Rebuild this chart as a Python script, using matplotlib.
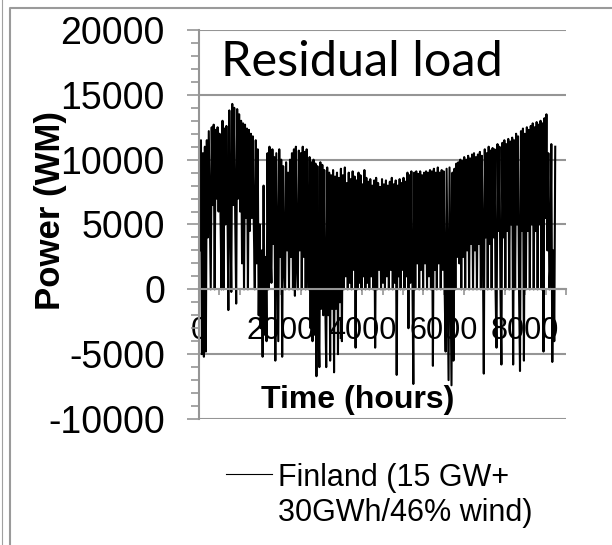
import numpy as np
import matplotlib.pyplot as plt
from matplotlib.lines import Line2D
from matplotlib.ticker import MultipleLocator

plt.rcParams["font.family"] = ["Liberation Sans", "DejaVu Sans"]
plt.rcParams["axes.unicode_minus"] = False

# daily samples of the residual load (MW)
load_mw = [
    11000, 3000, 11500, -5000, 10500, -5200, 11000,
    -4800, 11500, 4000, 12200, 6000, 0, 12500,
    6500, 12700, 0, 12300, 7000, 12500, 6000,
    12000, 5500, 0, 13000, 0, 12400, 5000,
    12600, 7000, -1600, 13800, 6000, -200, 14300,
    6500, 14000, 5500, -1100, 13900, 7000, 13500,
    6000, 13000, 2000, 12800, 0, 12700, 5500,
    12400, 0, 12300, 4500, 12000, 5500, 11800,
    5000, 0, 11500, 2000, 10800, -2000, 5000,
    -3000, 3000, -5200, 8000, -3500, 2500, -4000,
    10500, 0, 11000, 3000, 500, 10800, 3500,
    10200, -5500, 10500, 3000, -4000, 10800, 2500,
    10000, -5200, 9500, 2000, 0, 9800, 3000,
    9000, 0, 10000, 2500, 10500, 0, 10800,
    -500, 11000, 2000, 0, 10700, 3000, 10500,
    0, 11000, 2500, 10600, 0, 10800, 3000,
    0, 10200, -3000, 9800, -4000, 10000, -3500,
    9700, -6700, 9500, -2500, -6000, 9800, -1500,
    9600, -2000, 9200, -1000, -6000, 9400, -2000,
    9000, -5500, 8800, -1500, 9200, -6400, 8700,
    -1500, 9000, -5000, 8600, -1000, 9300, -4000,
    8800, 0, 9400, 1000, 8200, 0, 9000,
    500, 8500, 0, 9100, 1500, 8700, -4500,
    8400, 0, 9000, 500, 8800, 0, 8100,
    1000, 9200, 0, 8600, 500, 8300, 0,
    8500, 1000, 8000, 0, 8400, -4500, 8600,
    0, 8200, 1500, 7900, 0, 8500, 500,
    8100, 0, 8400, 1000, 8000, 0, 8300,
    1500, 8600, 0, 8100, 500, 8400, -6600,
    8000, 1000, 8500, 0, 8200, 1500, 8600,
    0, 8300, 1000, 9000, -3000, 8800, 500,
    9100, 1500, -7300, 9000, 0, 9100, 2000,
    8900, 0, 9100, 1500, 8800, 0, 9000,
    2000, 9100, 0, 9000, 1000, 9200, 0,
    9100, -5900, 9300, 1500, 9000, 0, 9400,
    2000, 9000, 0, 9200, 1500, 9100, 0,
    -4800, 9300, 1500, -7000, 9400, 1000, -7400,
    9000, -5500, 9300, 0, 9700, 2500, 9800,
    2000, 10000, 0, 9900, 2500, 10200, 0,
    10000, 3000, 10300, 0, 10100, 3500, 10400,
    0, 10500, 3000, 10200, 0, 10400, 3500,
    10600, 0, 10300, 3500, -6500, 10800, 4000,
    10500, 0, 11000, 3500, 10700, 0, 10900,
    4000, 10800, 0, -4500, 11200, 4500, 11000,
    0, -5800, 11300, 4000, 11500, 0, 11200,
    4500, 11600, 0, 11400, 5000, 11700, -5800,
    11500, 0, 12000, 5000, 11800, 0, -6300,
    12200, 4500, 12400, -5500, 12000, 0, 12500,
    4500, 12300, 0, 12600, 5000, 12800, 0,
    12500, 4500, 12900, 0, 12700, 5000, 13000,
    0, 12800, -4800, 13200, 5500, 13500, 3000,
    10500, 0, 2000, 11200, -5600, 3000, -4000,
    11000,
]
hours = np.arange(len(load_mw)) * 24

series_label = "Finland (15 GW+\n30GWh/46% wind)"
chart_title = "Residual load"

grey = "#959595"

fig = plt.figure(figsize=(6.12, 5.45), dpi=100)
ax = fig.add_axes([199 / 612, 126 / 545, 367 / 612, 389 / 545])

ax.plot(hours, load_mw, color="black", linewidth=1.5, label=series_label)

ax.set_xlim(0, 9000)
ax.set_ylim(-10000, 20000)

ax.yaxis.set_major_locator(MultipleLocator(5000))
ax.yaxis.set_minor_locator(MultipleLocator(1000))
ax.xaxis.set_minor_locator(MultipleLocator(500))
ax.set_xticks(np.arange(0, 8001, 2000))

ax.grid(axis="y", color=grey, linewidth=1.5)
ax.set_axisbelow(True)

for side in ["top", "right"]:
    ax.spines[side].set_visible(False)
ax.spines["left"].set_color(grey)
ax.spines["left"].set_linewidth(1.5)
ax.spines["bottom"].set_position(("data", 0))
ax.spines["bottom"].set_color(grey)
ax.spines["bottom"].set_linewidth(1.5)

ax.tick_params(axis="y", which="major", length=8.5, width=1.2, color=grey,
               labelsize=27, pad=16)
ax.tick_params(axis="y", which="minor", length=5.8, width=1.2, color=grey)
ax.tick_params(axis="x", which="both", length=4.3, width=1.2, color=grey,
               direction="out", labelsize=22, pad=15)

ax.set_ylabel("Power (WM)", fontsize=25, fontweight="bold")
ax.yaxis.set_label_coords(-0.405, 0.537)
ax.set_xlabel("Time (hours)", fontsize=23, fontweight="bold")
ax.xaxis.set_label_coords(0.433, 0.049)
ax.xaxis.label.set_va("center")
ax.yaxis.label.set_va("center")

ax.text(0.06, 0.918, chart_title, transform=ax.transAxes, fontsize=35,
        family="Lato", va="center", ha="left")

leg = ax.legend(loc="upper left", bbox_to_anchor=(226 / 612, 1 - 463 / 545),
                bbox_transform=fig.transFigure, frameon=False, fontsize=22,
                handlelength=1.5, handletextpad=0.2, borderpad=0,
                borderaxespad=0)
for line in leg.get_lines():
    line.set_linewidth(0.8)
for row in leg._legend_handle_box.get_children():
    for pack in row.get_children():
        pack.align = "top"

# outer frame lines of the original figure
fig.add_artist(Line2D([1.5 / 612, 1.5 / 612], [0, 1], color="#a0a0a0",
                      linewidth=0.8, transform=fig.transFigure))
fig.add_artist(Line2D([10 / 612, 10 / 612, 1], [0, 1 - 8 / 545, 1 - 8 / 545],
                      color="#9a9a9a", linewidth=1.5, transform=fig.transFigure))

fig.savefig("out.png", dpi=100)
plt.close(fig)
